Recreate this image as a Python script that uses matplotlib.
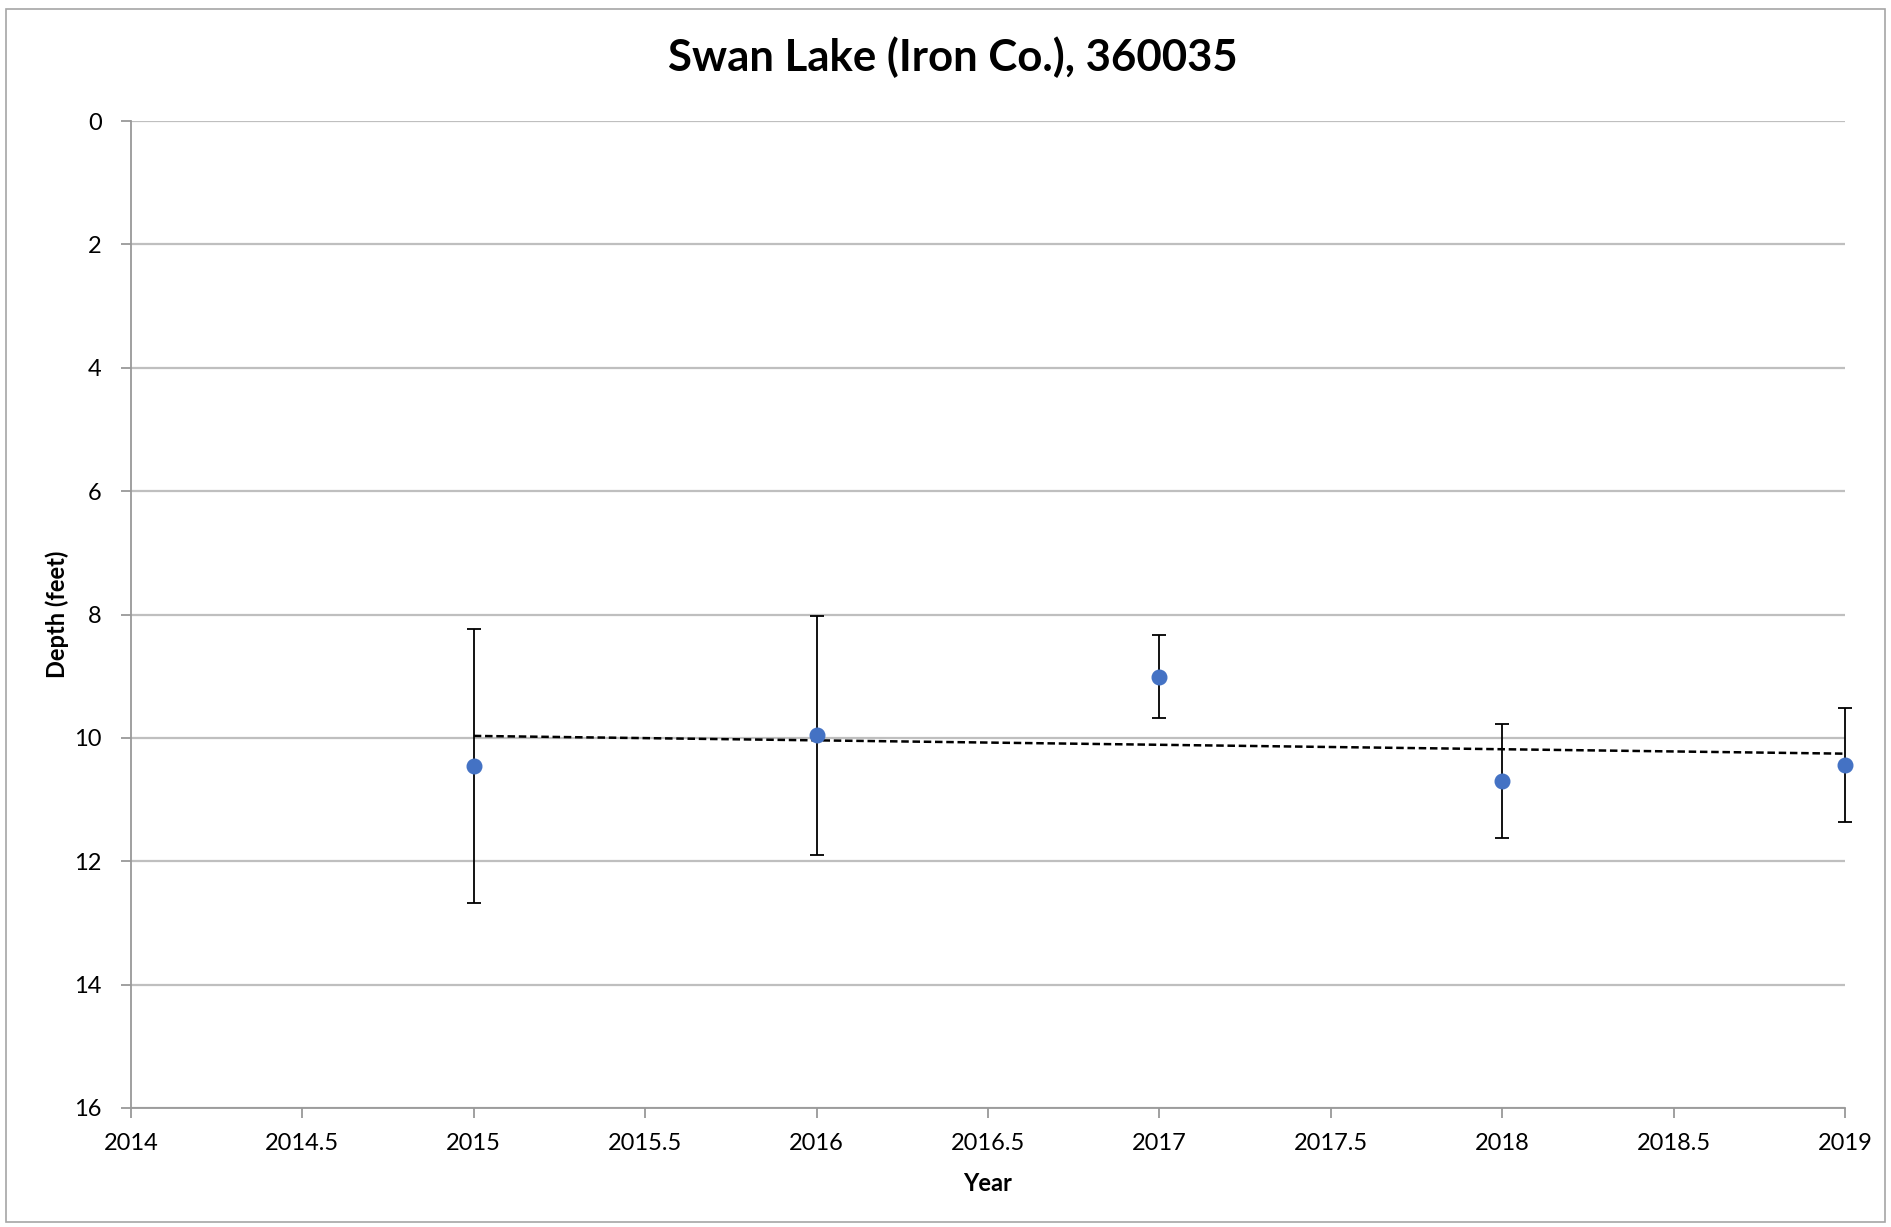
import matplotlib.pyplot as plt
import matplotlib.patches as mpatches
import numpy as np

# data
years = [2015, 2016, 2017, 2018, 2019]
depth = [10.45, 9.96, 9.01, 10.70, 10.44]
err = [2.22, 1.94, 0.67, 0.92, 0.92]
xticks = [2014, 2014.5, 2015, 2015.5, 2016, 2016.5, 2017, 2017.5, 2018, 2018.5, 2019]
xlabels = ["2014", "2014.5", "2015", "2015.5", "2016", "2016.5", "2017", "2017.5", "2018", "2018.5", "2019"]
yticks = [0, 2, 4, 6, 8, 10, 12, 14, 16]

plt.rcParams['font.family'] = ['Lato', 'DejaVu Sans']

fig = plt.figure(figsize=(18.91, 12.27), dpi=100)
ax = fig.add_axes([131 / 1891, 1 - 1108 / 1227, (1845 - 131) / 1891, (1108 - 121) / 1227])

# outer chart border
fig.patches.append(mpatches.Rectangle((6 / 1891, 0.004), 1 - 12 / 1891, 1 - 9 / 1227 - 0.004,
                                      transform=fig.transFigure, fill=False,
                                      edgecolor="#A6A6A6", linewidth=1.2))

ax.errorbar(years, depth, yerr=err, fmt="o", color="#4472C4", markersize=10.5,
            ecolor="black", elinewidth=1.3, capsize=5, capthick=1.3, zorder=3, clip_on=False)

# linear trendline
k, b = np.polyfit(years, depth, 1)
tx = np.array([years[0], years[-1]])
ax.plot(tx, k * tx + b, color="black", linestyle=(0, (3, 1.5)), linewidth=1.8, zorder=2)

ax.set_xlim(2014, 2019)
ax.set_ylim(16, 0)
ax.set_xticks(xticks)
ax.set_xticklabels(xlabels)
ax.set_yticks(yticks)

ax.grid(axis="y", color="#BFBFBF", linewidth=1.6)
ax.set_axisbelow(True)
for s in ["top", "right"]:
    ax.spines[s].set_visible(False)
for s in ["left", "bottom"]:
    ax.spines[s].set_color("#999999")
    ax.spines[s].set_linewidth(1.3)
ax.tick_params(axis="both", colors="#999999", labelcolor="black", labelsize=17, length=7, width=1.3)
ax.tick_params(axis="x", pad=11)
ax.tick_params(axis="y", pad=14)

fig.text(0.504, 0.953, "Swan Lake (Iron Co.), 360035", fontsize=31.5, fontweight="bold",
         ha="center", va="center")
ax.set_xlabel("Year", fontsize=17, fontweight="bold", labelpad=13)
ax.set_ylabel("Depth (feet)", fontsize=17, fontweight="bold", labelpad=4)

fig.savefig("out.png", dpi=100)
